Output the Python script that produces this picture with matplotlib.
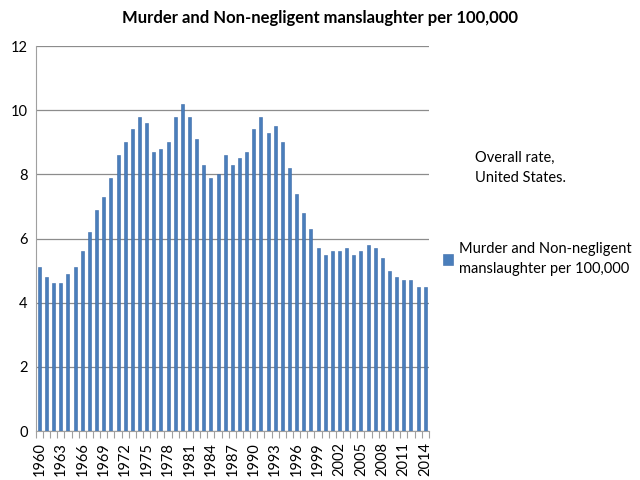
import numpy as np
import matplotlib.pyplot as plt
from matplotlib.patches import Patch

plt.rcParams['font.family'] = ['Lato', 'DejaVu Sans']

years = list(range(1960, 2015))
rates = [5.1, 4.8, 4.6, 4.6, 4.9, 5.1, 5.6, 6.2, 6.9, 7.3,
         7.9, 8.6, 9.0, 9.4, 9.8, 9.6, 8.7, 8.8, 9.0, 9.8,
         10.2, 9.8, 9.1, 8.3, 7.9, 8.0, 8.6, 8.3, 8.5, 8.7,
         9.4, 9.8, 9.3, 9.5, 9.0, 8.2, 7.4, 6.8, 6.3, 5.7,
         5.5, 5.6, 5.6, 5.7, 5.5, 5.6, 5.8, 5.7, 5.4, 5.0,
         4.8, 4.7, 4.7, 4.5, 4.5]
series_name = 'Murder and Non-negligent\nmanslaughter per 100,000'
bar_color = '#4A7EBB'

fig = plt.figure(figsize=(6.4, 4.8), dpi=100)
ax = fig.add_axes([0.056, 0.102, 0.614, 0.802])

x = np.arange(len(years))
ax.bar(x, rates, width=0.42, color=bar_color, edgecolor='#3A6AA8', linewidth=0.4, zorder=3)

ax.set_xlim(-0.5, len(years) - 0.5)
ax.set_ylim(0, 12)
ax.set_yticks(np.arange(0, 13, 2))
ax.yaxis.grid(True, color='#8C8C8C', linewidth=0.9, zorder=0)
ax.tick_params(axis='y', length=0, labelsize=10.5, pad=6)

ax.set_xticks(x[::3])
ax.set_xticklabels([str(y) for y in years[::3]], rotation=90, fontsize=10.5)
ax.set_xticks(np.arange(-0.5, len(years), 1), minor=True)
ax.tick_params(axis='x', which='major', length=0, pad=8)
ax.tick_params(axis='x', which='minor', length=5, color='#A0A0A0', width=0.8)

for s in ['top', 'right']:
    ax.spines[s].set_visible(False)
ax.spines['left'].set_color('#A0A0A0')
ax.spines['bottom'].set_color('#A0A0A0')

fig.text(0.5, 0.962, 'Murder and Non-negligent manslaughter per 100,000',
         ha='center', va='center', fontsize=12, fontweight='bold')
fig.text(0.742, 0.65, 'Overall rate,\nUnited States.', ha='left', va='center',
         fontsize=10.5, linespacing=1.55)

handle = Patch(facecolor=bar_color, edgecolor='#3A6AA8', linewidth=0.4)
leg = fig.legend([handle], [series_name], loc='center left', bbox_to_anchor=(0.683, 0.46),
                 frameon=False, fontsize=10.5, handlelength=0.7, handleheight=0.7,
                 handletextpad=0.4, borderaxespad=0)
for t in leg.get_texts():
    t.set_linespacing(1.55)

fig.savefig('out.png', dpi=100)
